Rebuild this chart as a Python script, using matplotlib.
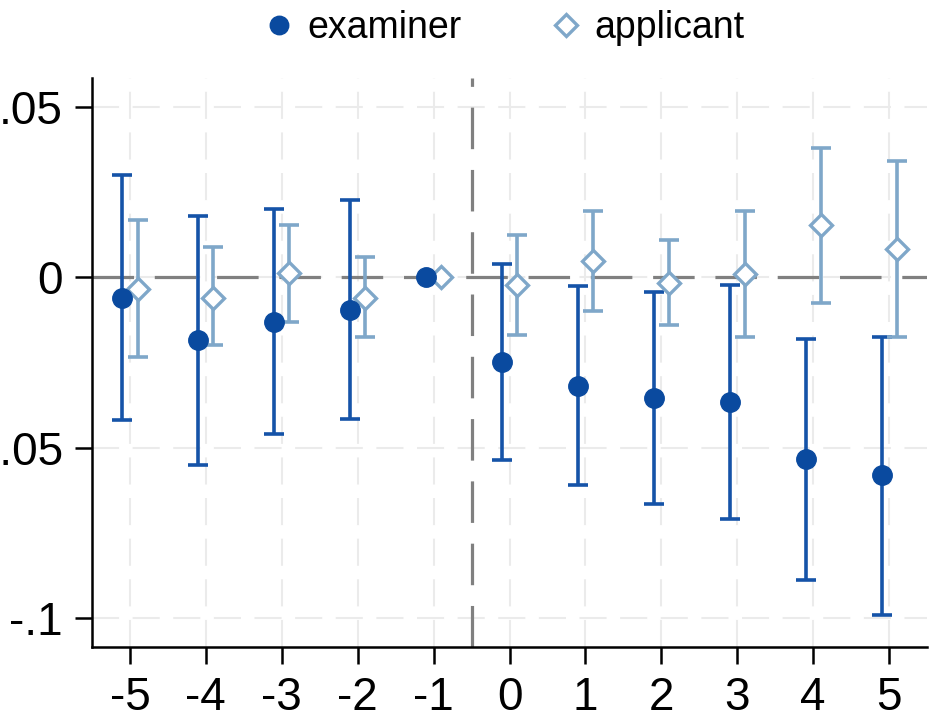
import matplotlib.pyplot as plt
import numpy as np

plt.rcParams['font.family'] = ['Liberation Sans', 'DejaVu Sans']

# данные: период относительно события
periods = [-5, -4, -3, -2, -1, 0, 1, 2, 3, 4, 5]
tick_labels = ['-5', '-4', '-3', '-2', '-1', '0', '1', '2', '3', '4', '5']

# examiner: оценка и доверительный интервал
exam_est = [-0.0062, -0.0185, -0.013, -0.0097, 0.0, -0.025, -0.032, -0.0353, -0.0365, -0.0532, -0.058]
exam_hi = [0.030, 0.018, 0.020, 0.0226, 0.0, 0.0038, -0.0026, -0.0044, -0.0024, -0.018, -0.0176]
exam_lo = [-0.042, -0.055, -0.046, -0.0415, 0.0, -0.0535, -0.061, -0.0665, -0.0709, -0.0888, -0.099]

# applicant
appl_est = [-0.0035, -0.006, 0.0012, -0.006, 0.0, -0.0024, 0.0047, -0.0018, 0.0009, 0.0153, 0.0082]
appl_hi = [0.0168, 0.009, 0.0153, 0.006, 0.0, 0.0124, 0.0194, 0.0109, 0.0194, 0.038, 0.034]
appl_lo = [-0.0235, -0.020, -0.013, -0.0174, 0.0, -0.017, -0.010, -0.014, -0.0176, -0.0074, -0.0176]

yticks = [-0.1, -0.05, 0, 0.05]
ytick_labels = ['-.1', '-.05', '0', '.05']

DARK = '#0a4a9f'
LIGHT = '#7fa7c9'

fig = plt.figure(figsize=(9.32, 7.28), dpi=100)
ax = fig.add_axes([0.0987, 0.1113, 0.896, 0.7816])

x = np.array(periods, dtype=float)
ex_est = np.array(exam_est)
ap_est = np.array(appl_est)
ex_err = [ex_est - np.array(exam_lo), np.array(exam_hi) - ex_est]
ap_err = [ap_est - np.array(appl_lo), np.array(appl_hi) - ap_est]
has_ci = np.array(exam_hi) != np.array(exam_lo)

# сетка
dash = (0, (13, 6.5))
for t in periods:
    ax.axvline(t, color='#ebebeb', lw=1.5, linestyle=dash, zorder=0)
for t in yticks:
    ax.axhline(t, color='#ebebeb', lw=1.5, linestyle=dash, zorder=0)

# нулевая линия и линия события
ax.axhline(0, color='#808080', lw=2.3, linestyle=dash, zorder=1)
ax.axvline(-0.5, color='#808080', lw=2.3, linestyle=dash, zorder=1)

# доверительные интервалы
ax.errorbar(x[has_ci] - 0.1, ex_est[has_ci],
            yerr=[ex_err[0][has_ci], ex_err[1][has_ci]],
            fmt='none', ecolor='#1553a8', elinewidth=2.6, capsize=7, capthick=2.6, zorder=2)
ax.errorbar(x[has_ci] + 0.1, ap_est[has_ci],
            yerr=[ap_err[0][has_ci], ap_err[1][has_ci]],
            fmt='none', ecolor=LIGHT, elinewidth=2.6, capsize=7, capthick=2.6, zorder=2)

# точки
ax.plot(x - 0.1, ex_est, 'o', color=DARK, markersize=14, linestyle='none',
        label='examiner', zorder=4)
ax.plot(x + 0.1, ap_est, 'D', markerfacecolor='white', markeredgecolor=LIGHT,
        markeredgewidth=2.4, markersize=11.5, linestyle='none', label='applicant', zorder=3)

# Оси
ax.set_xlim(-5.5, 5.5)
ax.set_ylim(-0.1085, 0.0585)
ax.set_xticks(periods)
ax.set_xticklabels(tick_labels)
ax.set_yticks(yticks)
ax.set_yticklabels(ytick_labels)
ax.tick_params(axis='both', labelsize=33, length=12, width=1.8, pad=9)
ax.spines['top'].set_visible(False)
ax.spines['right'].set_visible(False)
ax.spines['left'].set_linewidth(1.8)
ax.spines['bottom'].set_linewidth(1.8)

fig.legend(loc='upper center', bbox_to_anchor=(0.541, 1.032), ncol=2, frameon=False,
           fontsize=27, handlelength=0.8, handletextpad=0.35, columnspacing=2.4,
           numpoints=1, markerscale=0.95)

plt.savefig('out.png', dpi=100)
